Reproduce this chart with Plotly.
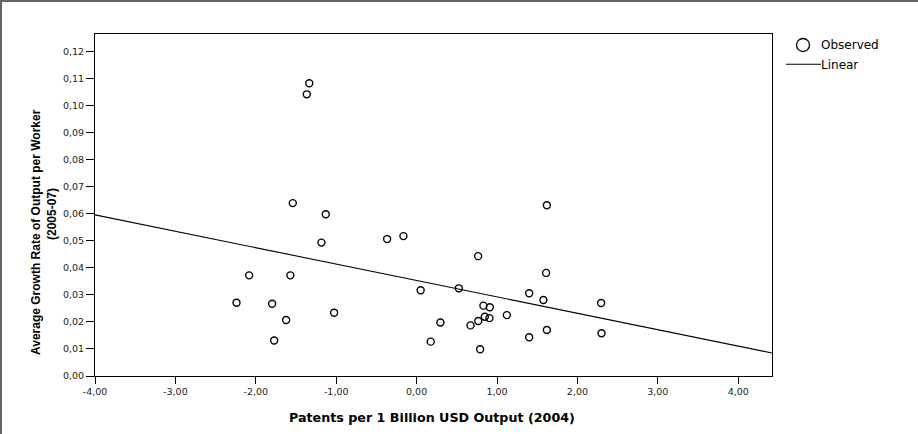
import numpy as np
import plotly.graph_objects as go

# Patents per 1 billion USD output (2004) vs. average growth of output per worker (2005-07)
patents = [
    -1.335, -1.366, -1.540, -1.130, -1.184, -0.367, -0.164,
    -2.083, -1.570, -2.240, -1.797, -1.623, -1.772, -1.026,
    0.050, 0.175, 0.765, 1.610, 0.525, 1.400, 1.577,
    0.831, 0.910, 1.122, 0.296, 0.848, 0.906, 0.767,
    0.670, 1.620, 1.400, 0.790, 1.620, 2.295, 2.300,
]
growth = [
    0.1082, 0.1041, 0.0639, 0.0598, 0.0493, 0.0506, 0.0517,
    0.0372, 0.0372, 0.0271, 0.0267, 0.0207, 0.0131, 0.0234,
    0.0317, 0.0127, 0.0443, 0.0381, 0.0324, 0.0306, 0.0281,
    0.0260, 0.0254, 0.0225, 0.0198, 0.0219, 0.0214, 0.0203,
    0.0187, 0.0170, 0.0143, 0.0099, 0.0631, 0.0270, 0.0158,
]

# Linear curve-estimation result (growth = b0 + b1 * patents)
fit_intercept = 0.0353
fit_slope = -0.00606

x_tick_values = [-4, -3, -2, -1, 0, 1, 2, 3, 4]
x_tick_labels = ["-4,00", "-3,00", "-2,00", "-1,00", "0,00", "1,00", "2,00", "3,00", "4,00"]
y_tick_values = [0.00, 0.01, 0.02, 0.03, 0.04, 0.05, 0.06, 0.07, 0.08, 0.09, 0.10, 0.11, 0.12]
y_tick_labels = ["0,00", "0,01", "0,02", "0,03", "0,04", "0,05", "0,06",
                 "0,07", "0,08", "0,09", "0,10", "0,11", "0,12"]

x_range = [-4.0, 4.42]
y_range = [0.0, 0.1264]

# Figure geometry (pixels)
W, H = 918, 434
ML, MR, MT, MB = 95, 146, 34, 58
PW, PH = W - ML - MR, H - MT - MB


def px_x(p):
    """Horizontal pixel -> paper coordinate."""
    return (p - ML) / PW


def px_y(p):
    """Vertical pixel (from top) -> paper coordinate."""
    return (H - MB - p) / PH


fit_x = np.array(x_range)
fit_y = fit_intercept + fit_slope * fit_x

TICK_FONT = dict(family="DejaVu Sans", size=9.5, color="#222222")
TEXT_FONT = "DejaVu Sans"

fig = go.Figure()

fig.add_trace(go.Scatter(
    x=patents, y=growth, mode="markers", name="Observed",
    marker=dict(symbol="circle-open", size=7, color="#000000",
                line=dict(width=1.4, color="#000000")),
    showlegend=False, cliponaxis=True,
))

fig.add_trace(go.Scatter(
    x=fit_x, y=fit_y, mode="lines", name="Linear",
    line=dict(color="#000000", width=1.1),
    showlegend=False,
))

shapes = [
    # outer chart frame (top and left edges)
    dict(type="line", xref="paper", yref="paper",
         x0=px_x(0), x1=px_x(W), y0=px_y(1), y1=px_y(1),
         line=dict(color="#666666", width=2)),
    dict(type="line", xref="paper", yref="paper",
         x0=px_x(1), x1=px_x(1), y0=px_y(0), y1=px_y(H),
         line=dict(color="#666666", width=2)),
    # legend symbols
    dict(type="circle", xref="paper", yref="paper",
         x0=px_x(803 - 6.5), x1=px_x(803 + 6.5),
         y0=px_y(45 + 6.5), y1=px_y(45 - 6.5),
         line=dict(color="#000000", width=1.3)),
    dict(type="line", xref="paper", yref="paper",
         x0=px_x(786), x1=px_x(821), y0=px_y(64.3), y1=px_y(64.3),
         line=dict(color="#000000", width=1.1)),
]

annotations = [
    dict(text="Observed", xref="paper", yref="paper",
         x=px_x(819), y=px_y(45.5), xanchor="left", yanchor="middle",
         showarrow=False, font=dict(family=TEXT_FONT, size=12, color="#000000")),
    dict(text="Linear", xref="paper", yref="paper",
         x=px_x(819), y=px_y(64.5), xanchor="left", yanchor="middle",
         showarrow=False, font=dict(family=TEXT_FONT, size=12, color="#000000")),
    # axis titles
    dict(text="<b>Patents per 1 Billion USD Output (2004)</b>", xref="paper", yref="paper",
         x=px_x(431.5), y=px_y(417), xanchor="center", yanchor="middle",
         showarrow=False, font=dict(family=TEXT_FONT, size=12.7, color="#000000")),
    dict(text="<b>Average Growth Rate of Output per Worker</b>", xref="paper", yref="paper",
         x=px_x(35.5), y=px_y(232.5), xanchor="center", yanchor="middle", textangle=-90,
         showarrow=False, font=dict(family="Liberation Sans", size=12, color="#000000")),
    dict(text="<b>(2005-07)</b>", xref="paper", yref="paper",
         x=px_x(52), y=px_y(214), xanchor="center", yanchor="middle", textangle=-90,
         showarrow=False, font=dict(family="Liberation Sans", size=12, color="#000000")),
]

fig.update_layout(
    width=W, height=H,
    margin=dict(l=ML, r=MR, t=MT, b=MB, pad=0),
    paper_bgcolor="#ffffff", plot_bgcolor="#ffffff",
    showlegend=False,
    shapes=shapes, annotations=annotations,
    xaxis=dict(
        range=x_range, tickmode="array", tickvals=x_tick_values, ticktext=x_tick_labels,
        showgrid=False, zeroline=False, showline=True, linecolor="#000000", linewidth=1,
        mirror=True, ticks="outside", ticklen=7, tickwidth=1, tickcolor="#000000",
        tickfont=TICK_FONT, fixedrange=True,
    ),
    yaxis=dict(
        range=y_range, tickmode="array", tickvals=y_tick_values, ticktext=y_tick_labels,
        showgrid=False, zeroline=False, showline=True, linecolor="#000000", linewidth=1,
        mirror=True, ticks="outside", ticklen=8, tickwidth=1, tickcolor="#000000",
        tickfont=TICK_FONT, fixedrange=True,
    ),
)

fig.write_html("out.html")
